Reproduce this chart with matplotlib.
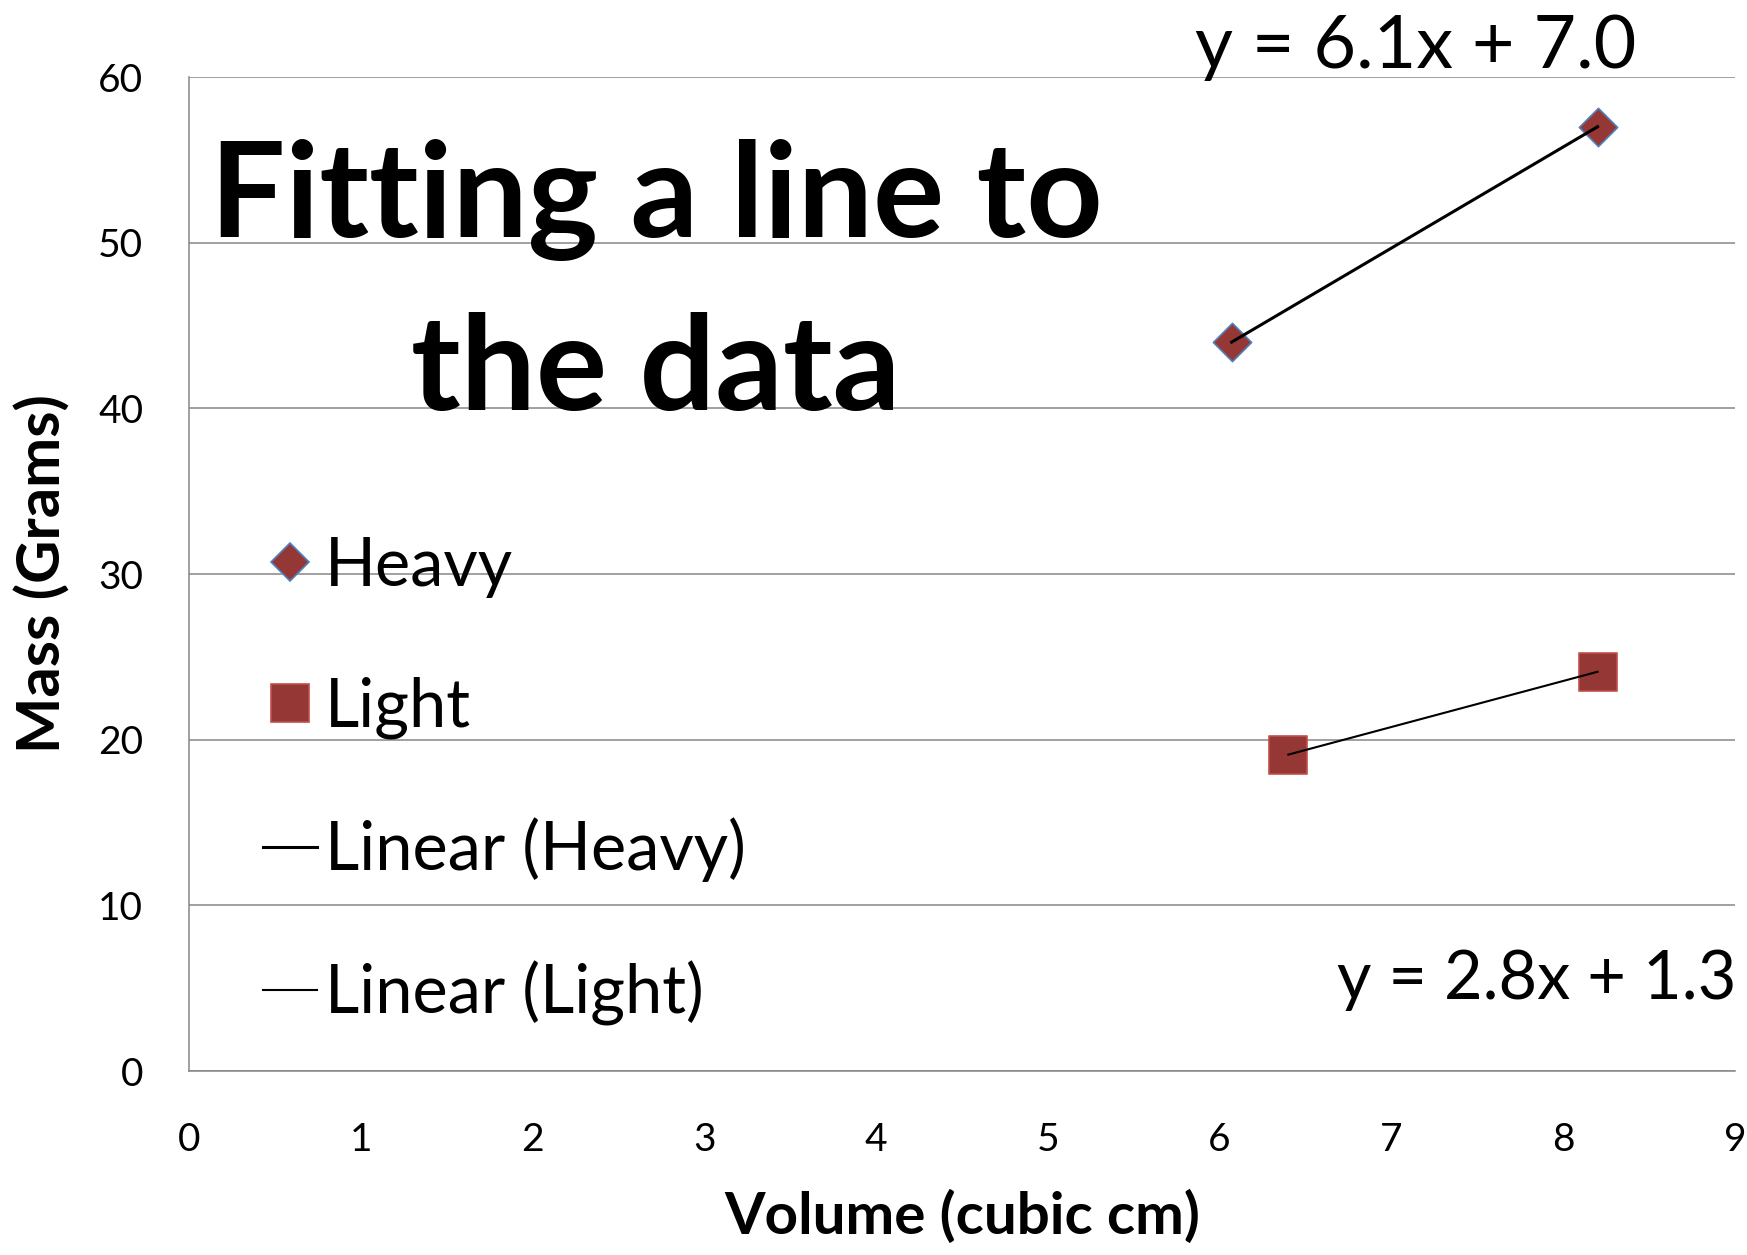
import matplotlib.pyplot as plt
from matplotlib.lines import Line2D
import numpy as np

# Data
heavy_volume = [6.07, 8.2]
heavy_mass = [44.0, 57.0]
light_volume = [6.4, 8.2]
light_mass = [19.1, 24.1]

x_ticks = [0, 1, 2, 3, 4, 5, 6, 7, 8, 9]
y_ticks = [0, 10, 20, 30, 40, 50, 60]

plt.rcParams['font.family'] = ['Lato', 'DejaVu Sans']

fig = plt.figure(figsize=(17.47, 12.55), dpi=100)
ax = fig.add_axes([0.1082, 0.1466, 0.8849, 0.7920])

grid_col = '#868686'
fill_col = '#953735'

# Linear trendlines (least squares fit, drawn across the data range)
heavy_fit = np.polyfit(heavy_volume, heavy_mass, 1)
light_fit = np.polyfit(light_volume, light_mass, 1)
hx = np.array([min(heavy_volume), max(heavy_volume)])
lx = np.array([min(light_volume), max(light_volume)])

ax.scatter(heavy_volume, heavy_mass, marker='D', s=19.5**2, color=fill_col,
           edgecolor='#4F81BD', linewidth=1.2, zorder=3)
ax.scatter(light_volume, light_mass, marker='s', s=27**2, color=fill_col,
           edgecolor='#C0504D', linewidth=1.2, zorder=3)
ax.plot(hx, np.polyval(heavy_fit, hx), color='black', lw=2.2, zorder=4)
ax.plot(lx, np.polyval(light_fit, lx), color='black', lw=1.5, zorder=4)

ax.set_xlim(0, 9)
ax.set_ylim(0, 60)
ax.set_xticks(x_ticks)
ax.set_yticks(y_ticks)
ax.tick_params(length=0, labelsize=28, pad=0)
ax.tick_params(axis='y', pad=33)
ax.tick_params(axis='x', pad=37)
ax.yaxis.grid(True, color=grid_col, lw=1.1)
ax.set_axisbelow(True)
for s in ['top', 'right']:
    ax.spines[s].set_visible(False)
for s in ['left', 'bottom']:
    ax.spines[s].set_color(grid_col)
    ax.spines[s].set_linewidth(1.1)

ax.set_xlabel('Volume (cubic cm)', fontsize=42, fontweight='bold')
ax.set_ylabel('Mass (Grams)', fontsize=43, fontweight='bold')
ax.xaxis.set_label_coords(0.5, -0.119)
ax.yaxis.set_label_coords(-0.0765, 0.5)

# Big title inside plot area
ax.text(0.302, 0.839, 'Fitting a line to', transform=ax.transAxes,
        fontsize=96, fontweight='bold', ha='center', va='baseline')
ax.text(0.302, 0.665, 'the data', transform=ax.transAxes,
        fontsize=96, fontweight='bold', ha='center', va='baseline')

# Trendline equations
ax.text(0.651, 1.009, 'y = %.1fx + %.1f' % (heavy_fit[0], heavy_fit[1]),
        transform=ax.transAxes, fontsize=53, ha='left', va='baseline')
ax.text(1.001, 0.072, 'y = %.1fx + %.1f' % (light_fit[0], light_fit[1]),
        transform=ax.transAxes, fontsize=48, ha='right', va='baseline')

handles = [
    Line2D([], [], ls='none', marker='D', markersize=19, color=fill_col,
           markeredgecolor='#4F81BD', markeredgewidth=1.2),
    Line2D([], [], ls='none', marker='s', markersize=27, color=fill_col,
           markeredgecolor='#C0504D', markeredgewidth=1.2),
    Line2D([], [], color='black', lw=2.2),
    Line2D([], [], color='black', lw=1.5),
]
labels = ['Heavy', 'Light', 'Linear (Heavy)', 'Linear (Light)']
ax.legend(handles, labels, loc='center left', bbox_to_anchor=(0.048, 0.292),
          frameon=False, fontsize=48, handlelength=0.8, handletextpad=0.12,
          labelspacing=1.18, borderpad=0, borderaxespad=0)

fig.savefig('out.png', dpi=100)
